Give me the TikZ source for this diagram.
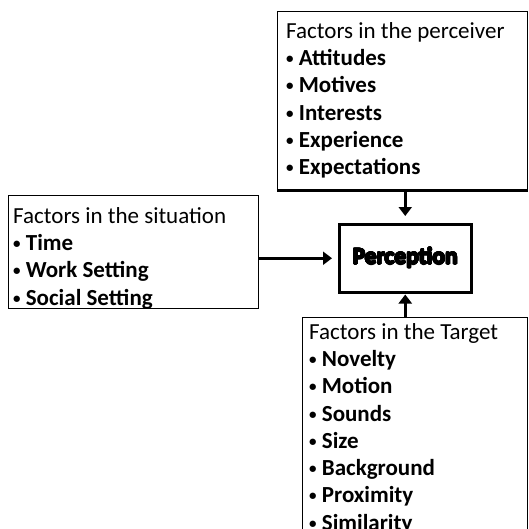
\documentclass[tikz,border=0pt]{standalone}
\usepackage{fontspec}
\usepackage{contour}
\setmainfont{Carlito}
\contourlength{0.7pt}
\contournumber{24}
\usetikzlibrary{arrows.meta}
\newcommand{\pt}{\raisebox{2pt}{\fontsize{15}{15}\selectfont\textbullet}\ }

\begin{document}
\begin{tikzpicture}[x = 1pt, y = -1pt,
        box/.style = {draw, line width = 0.8pt, anchor = north west, inner sep = 0pt},
        list/.style = {anchor = north west, align = left, inner sep = 0pt,
            font = \fontsize{23}{27.3}\selectfont},
        flow/.style = {line width = 3pt, -{Triangle[length = 9pt, width = 13pt]}}]
    \clip (0, 0) rectangle (529, 529);
    % the four boxes
    \node[box, minimum width = 250pt, minimum height = 179pt] (perceiver) at (277, 11) {};
    \node[box, minimum width = 250pt, minimum height = 113pt] (situation) at (8, 195) {};
    \node[box, minimum width = 225pt, minimum height = 230pt] (target) at (302, 317) {};
    \node[box, line width = 2.5pt, minimum width = 132pt, minimum height = 68pt,
        font = \fontsize{23.5}{28}\selectfont\bfseries] (perception) at (338, 223)
        {\contour{black}{Perception}};
    \draw[line width = 3pt] (perceiver.south west) -- (perceiver.south east);
    % texts of the boxes
    \node[list] (perceivertext) at (286, 22) {Factors in the perceiver\\
        \textbf{\pt Attitudes}\\ \textbf{\pt Motives}\\
        \textbf{\pt Interests}\\ \textbf{\pt Experience}\\
        \textbf{\pt Expectations}};
    \node[list] (situationtext) at (13, 207) {Factors in the situation\\
        \textbf{\pt Time}\\ \textbf{\pt Work Setting}\\
        \textbf{\pt Social Setting}};
    \node[list] (targettext) at (309, 323) {Factors in the Target\\
        \textbf{\pt Novelty}\\ \textbf{\pt Motion}\\
        \textbf{\pt Sounds}\\ \textbf{\pt Size}\\
        \textbf{\pt Background}\\ \textbf{\pt Proximity}\\
        \textbf{\pt Similarity}};
    % arrows into the middle
    \draw[flow, shorten > = 6pt] (situation.east |- perception.west) -- (perception.west);
    \draw[flow, shorten > = 7pt] (perception.north |- perceiver.south) -- (perception.north);
    \draw[flow, shorten > = 1pt] (perception.south |- target.north) -- (perception.south);
\end{tikzpicture}
\end{document}
